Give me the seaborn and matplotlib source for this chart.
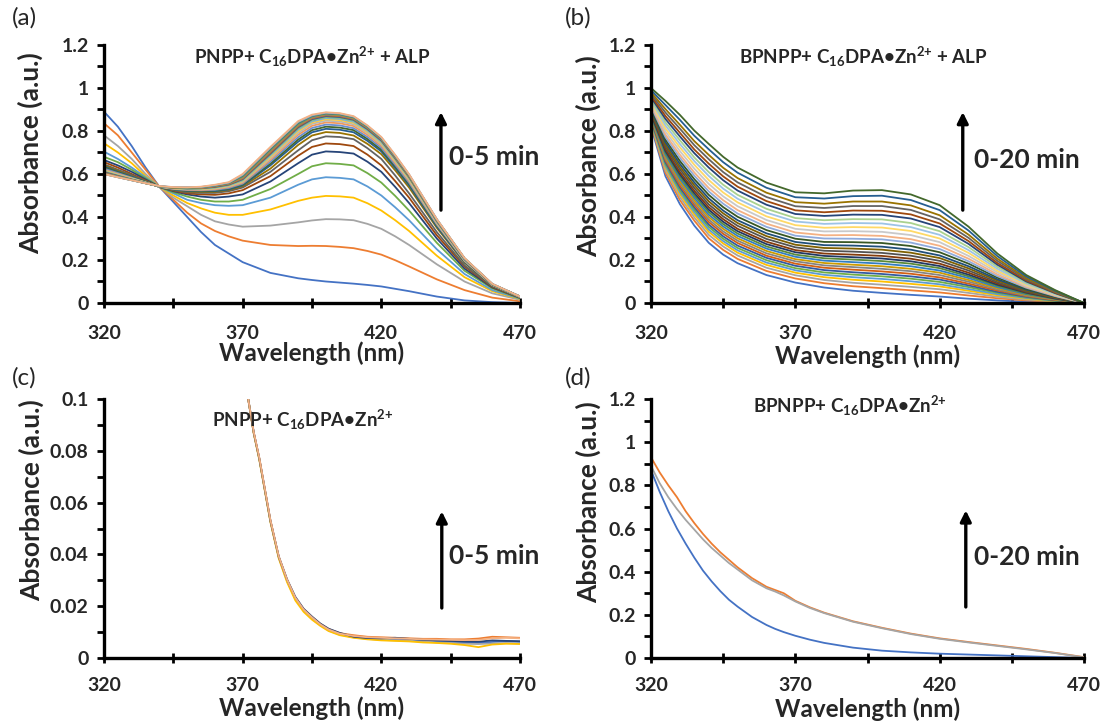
import matplotlib
matplotlib.use("Agg")
import matplotlib.pyplot as plt
import seaborn as sns
import pandas as pd
from matplotlib.ticker import FixedLocator, FuncFormatter

# ---------------- data ----------------
wl_a = [320, 325, 330, 335, 340, 345, 350, 355, 360, 365, 370, 380, 390, 395, 400, 405,
        410, 415, 420, 425, 430, 440, 450, 460, 470]
abs_a = [
    [.89, .82, .73, .63, .54, .47, .40, .33, .27, .23, .19, .14, .115, .107, .10, .095, .09, .084, .077, .066, .055, .03, .012, .004, 0],
    [.836, .78, .70, .62, .54, .48, .42, .37, .335, .31, .29, .27, .265, .266, .265, .261, .255, .242, .225, .199, .17, .11, .06, .025, .008],
    [.78, .73, .67, .60, .54, .49, .45, .41, .38, .365, .355, .36, .375, .384, .39, .389, .385, .368, .345, .31, .27, .18, .10, .045, .015],
    [.743, .70, .65, .59, .54, .50, .465, .44, .42, .41, .41, .435, .475, .49, .498, .496, .49, .464, .43, .385, .335, .22, .12, .055, .018],
    [.704, .67, .63, .585, .54, .51, .48, .465, .455, .452, .455, .49, .55, .575, .585, .582, .575, .542, .50, .445, .385, .25, .135, .06, .02],
    [.68, .655, .62, .58, .54, .515, .495, .48, .472, .472, .48, .53, .60, .636, .65, .647, .64, .604, .56, .498, .43, .28, .15, .068, .022],
    [.665, .64, .61, .575, .54, .52, .505, .495, .49, .495, .505, .565, .65, .69, .705, .702, .695, .657, .61, .54, .465, .30, .16, .072, .024],
    [.655, .63, .60, .57, .54, .523, .51, .505, .503, .51, .525, .59, .685, .726, .742, .739, .73, .69, .64, .567, .49, .315, .17, .075, .025],
    [.645, .62, .595, .567, .54, .525, .515, .512, .512, .52, .537, .61, .71, .757, .775, .772, .762, .72, .67, .593, .51, .33, .175, .078, .026],
    [.64, .615, .59, .565, .54, .527, .519, .516, .517, .525, .543, .625, .735, .779, .795, .791, .779, .74, .692, .617, .537, .35, .187, .08, .027],
    [.635, .611, .588, .564, .54, .528, .521, .519, .52, .528, .547, .64, .75, .794, .81, .806, .794, .754, .705, .628, .547, .356, .19, .081, .028],
    [.63, .608, .585, .563, .54, .529, .523, .521, .523, .532, .551, .648, .76, .804, .82, .816, .804, .763, .713, .636, .554, .361, .193, .082, .028],
    [.625, .604, .583, .561, .54, .53, .525, .524, .526, .535, .555, .657, .771, .814, .83, .826, .813, .772, .722, .643, .56, .365, .195, .083, .028],
    [.62, .60, .58, .56, .541, .532, .527, .526, .529, .539, .559, .666, .782, .824, .84, .836, .823, .782, .731, .651, .567, .37, .197, .084, .029],
    [.618, .598, .579, .56, .541, .533, .529, .528, .532, .542, .563, .673, .791, .833, .848, .844, .831, .79, .738, .657, .572, .373, .199, .085, .029],
    [.615, .596, .578, .56, .542, .534, .53, .53, .534, .545, .567, .68, .80, .84, .855, .851, .838, .796, .744, .662, .577, .376, .201, .086, .029],
    [.612, .594, .576, .559, .542, .535, .531, .532, .536, .547, .57, .686, .806, .845, .86, .856, .843, .801, .748, .667, .581, .378, .202, .086, .029],
    [.61, .592, .575, .558, .542, .535, .532, .533, .538, .549, .573, .691, .812, .851, .865, .861, .848, .806, .753, .671, .584, .381, .203, .087, .029],
    [.608, .591, .574, .558, .542, .536, .533, .534, .54, .551, .576, .695, .817, .855, .869, .865, .852, .809, .756, .674, .587, .382, .204, .087, .03],
    [.606, .589, .573, .557, .543, .536, .534, .535, .542, .553, .579, .70, .822, .859, .873, .869, .856, .813, .76, .677, .589, .384, .205, .087, .03],
    [.604, .588, .572, .557, .543, .537, .535, .536, .544, .555, .582, .705, .826, .862, .876, .872, .858, .815, .762, .679, .591, .385, .206, .088, .03],
    [.602, .587, .572, .557, .543, .537, .536, .537, .545, .557, .586, .71, .83, .866, .879, .875, .861, .818, .765, .682, .593, .387, .207, .088, .03],
    [.601, .586, .571, .557, .543, .538, .537, .538, .546, .558, .589, .714, .834, .868, .881, .877, .863, .82, .766, .683, .595, .388, .207, .088, .03],
    [.60, .585, .571, .557, .543, .538, .537, .539, .547, .559, .592, .718, .838, .871, .883, .879, .865, .822, .768, .685, .596, .389, .208, .088, .03],
    [.60, .585, .571, .557, .544, .539, .538, .54, .548, .56, .596, .722, .842, .873, .885, .881, .867, .824, .77, .687, .598, .39, .208, .089, .03],
    [.60, .585, .571, .557, .544, .539, .538, .541, .55, .562, .60, .726, .846, .876, .887, .883, .869, .826, .772, .689, .599, .39, .209, .089, .03],
]

wl_b = [320, 325, 330, 335, 340, 345, 350, 360, 370, 380, 390, 400, 410, 420, 430, 440, 450, 460, 470]
abs_b = [
    [.82, .59, .46, .36, .28, .225, .185, .13, .095, .072, .057, .047, .038, .03, .02, .012, .006, .002, 0],
    [.828, .606, .479, .383, .301, .247, .205, .149, .114, .092, .078, .069, .059, .049, .035, .022, .012, .005, 0],
    [.834, .618, .493, .398, .317, .263, .221, .164, .129, .107, .094, .085, .075, .064, .047, .029, .016, .007, 0],
    [.840, .629, .506, .412, .331, .277, .234, .177, .141, .120, .108, .100, .089, .077, .057, .036, .020, .008, 0],
    [.844, .637, .516, .423, .342, .288, .245, .188, .152, .131, .120, .112, .101, .087, .065, .041, .023, .010, 0],
    [.849, .646, .526, .434, .354, .299, .256, .199, .162, .142, .132, .124, .113, .098, .074, .047, .026, .011, 0],
    [.853, .655, .537, .445, .365, .310, .267, .210, .173, .153, .143, .135, .124, .109, .082, .052, .029, .013, 0],
    [.858, .664, .547, .456, .377, .322, .279, .220, .183, .164, .155, .147, .136, .119, .090, .058, .032, .014, 0],
    [.862, .672, .558, .467, .388, .333, .290, .231, .194, .175, .167, .159, .148, .130, .099, .063, .035, .016, 0],
    [.867, .681, .568, .478, .400, .345, .301, .242, .204, .186, .178, .171, .159, .141, .107, .069, .038, .017, 0],
    [.871, .690, .578, .489, .411, .356, .312, .253, .215, .197, .190, .183, .171, .151, .116, .074, .041, .019, 0],
    [.876, .699, .589, .500, .423, .367, .323, .263, .225, .208, .202, .195, .183, .162, .124, .080, .044, .020, 0],
    [.880, .707, .599, .511, .434, .378, .334, .274, .236, .219, .213, .207, .194, .172, .132, .085, .048, .021, 0],
    [.885, .716, .609, .522, .446, .390, .345, .285, .246, .230, .225, .219, .206, .183, .141, .091, .051, .023, 0],
    [.890, .727, .622, .535, .459, .403, .359, .298, .259, .243, .239, .233, .220, .196, .151, .097, .054, .025, 0],
    [.896, .737, .634, .548, .473, .417, .372, .311, .271, .256, .253, .248, .234, .209, .161, .104, .058, .026, 0],
    [.901, .748, .647, .561, .487, .430, .385, .324, .284, .269, .267, .262, .248, .221, .171, .110, .062, .028, 0],
    [.907, .760, .661, .576, .503, .446, .401, .339, .299, .284, .283, .279, .265, .236, .183, .118, .066, .030, 0],
    [.914, .772, .676, .592, .519, .462, .416, .354, .313, .300, .299, .296, .281, .251, .194, .125, .071, .032, 0],
    [.920, .784, .690, .607, .535, .478, .432, .369, .328, .315, .316, .312, .297, .266, .206, .133, .075, .034, 0],
    [.927, .798, .707, .625, .554, .496, .450, .386, .345, .333, .334, .331, .316, .283, .219, .142, .080, .037, 0],
    [.934, .812, .724, .643, .572, .514, .468, .403, .362, .350, .353, .351, .335, .300, .233, .150, .085, .039, 0],
    [.942, .826, .740, .660, .591, .532, .485, .420, .379, .368, .372, .370, .353, .317, .246, .159, .090, .041, 0],
    [.949, .840, .757, .677, .609, .550, .503, .438, .395, .385, .390, .389, .372, .334, .260, .168, .095, .044, 0],
    [.957, .856, .775, .697, .630, .571, .523, .457, .414, .405, .411, .410, .393, .353, .275, .178, .100, .046, 0],
    [.964, .870, .792, .714, .648, .589, .541, .474, .431, .422, .430, .429, .412, .370, .288, .186, .105, .048, 0],
    [.972, .886, .811, .734, .669, .609, .561, .493, .450, .442, .451, .451, .433, .389, .303, .196, .111, .051, 0],
    [.980, .902, .829, .753, .689, .629, .581, .513, .469, .462, .472, .472, .454, .408, .318, .206, .116, .054, 0],
    [.990, .921, .852, .778, .715, .655, .606, .536, .492, .486, .497, .499, .479, .432, .337, .218, .123, .057, 0],
    [1.0, .94, .875, .802, .74, .68, .63, .56, .515, .51, .523, .525, .505, .455, .355, .23, .13, .06, 0],
]

wl_c = [370, 372, 374, 376, 378, 380, 383, 386, 389, 392, 395, 398, 401, 405,
        410, 415, 420, 425, 430, 435, 440, 445, 450, 455, 460, 465, 470]
abs_c = [
    [.118, .100, .087, .077, .065, .053, .039, .030, .023, .0185, .0155, .0128, .0108, .0092,
     .0085, .0078, .0075, .0072, .0072, .0068, .0065, .0062, .006, .0058, .0062, .0065, .0062],
    [.118, .100, .087, .0772, .0652, .0532, .0392, .0302, .0232, .0188, .0158, .0132, .0112, .0096,
     .0088, .0082, .0080, .0078, .0076, .0074, .0074, .0072, .0072, .0075, .0082, .0080, .0078],
    [.118, .100, .0868, .0768, .0648, .0528, .0388, .0298, .0228, .0183, .0152, .0127, .0106, .009,
     .008, .0074, .007, .0068, .0066, .0064, .006, .0058, .0055, .0054, .0056, .0058, .0056],
    [.118, .100, .0866, .0765, .0645, .0525, .0385, .0293, .0222, .0178, .0148, .0124, .0104, .0088,
     .0078, .0072, .0068, .0066, .0064, .006, .0058, .0055, .005, .0042, .0052, .0055, .0054],
    [.118, .100, .087, .077, .065, .053, .0392, .0304, .0236, .019, .016, .0133, .0113, .0097,
     .0082, .0077, .0076, .0078, .0074, .007, .0068, .0066, .0064, .0063, .0068, .0066, .0065],
    [.118, .100, .0872, .0773, .0653, .0533, .0393, .0303, .0233, .0187, .0157, .013, .011, .0094,
     .0085, .008, .0078, .0076, .0074, .0072, .0071, .007, .0069, .007, .0076, .0078, .0076],
]

wl_d = [320, 323, 326, 329, 332, 335, 338, 341, 344, 347, 350, 355, 360, 363, 366, 370,
        375, 380, 390, 400, 410, 420, 430, 440, 450, 460, 470]
abs_d = [
    [.87, .77, .68, .60, .53, .465, .405, .355, .31, .27, .238, .19, .153, .135, .12, .103,
     .085, .07, .048, .034, .026, .02, .016, .012, .008, .004, 0],
    [.93, .86, .80, .745, .68, .625, .575, .53, .49, .455, .42, .37, .33, .315, .30, .265,
     .235, .21, .17, .14, .113, .091, .074, .058, .042, .024, .004],
    [.89, .81, .745, .69, .64, .595, .55, .51, .475, .44, .41, .36, .323, .308, .29, .262,
     .232, .208, .168, .138, .111, .089, .072, .056, .04, .023, .003],
]

x_ticks = [320, 370, 420, 470]
titles = [r"PNPP+ C$_{16}$DPA•Zn$^{\text{2+}}$ + ALP", r"BPNPP+ C$_{16}$DPA•Zn$^{\text{2+}}$ + ALP",
          r"PNPP+ C$_{16}$DPA•Zn$^{\text{2+}}$", r"BPNPP+ C$_{16}$DPA•Zn$^{\text{2+}}$"]
time_labels = ["0-5 min", "0-20 min", "0-5 min", "0-20 min"]
panel_labels = ["(a)", "(b)", "(c)", "(d)"]

EXCEL = ['#4472C4', '#ED7D31', '#A5A5A5', '#FFC000', '#5B9BD5', '#70AD47',
         '#264478', '#9E480E', '#636363', '#997300', '#255E91', '#43682B',
         '#698ED0', '#F1975A', '#B7B7B7', '#FFCD33', '#7CAFDD', '#8CC168',
         '#335AA1', '#D26012', '#848484', '#CC9A00', '#327DC2', '#5A8A39',
         '#8FAADC', '#F4B183', '#C9C9C9', '#FFD966', '#9DC3E6', '#A9D18E',
         '#203864', '#843C0C', '#525252', '#7F6000', '#1F4E79', '#385723']

pal_a = EXCEL[:26]
pal_b = EXCEL[0:6] + EXCEL[18:24] + EXCEL[30:36] + EXCEL[24:30] + EXCEL[6:12]
pal_c = ['#4472C4', '#ED7D31', '#A5A5A5', '#FFC000', '#264478', '#F4B183']
pal_d = ['#4472C4', '#ED7D31', '#A5A5A5']

# ---------------- style ----------------
sns.set_theme(style="white")
plt.rcParams['font.family'] = ['Lato', 'DejaVu Sans']
plt.rcParams['font.weight'] = 'bold'
plt.rcParams['mathtext.fontset'] = 'custom'
plt.rcParams['mathtext.rm'] = 'Lato:bold'
plt.rcParams['mathtext.it'] = 'Lato:bold'
plt.rcParams['mathtext.bf'] = 'Lato:bold'

W, H = 1115, 724
fig = plt.figure(figsize=(W / 100, H / 100), dpi=100)


def rect(l, r, t, b):
    return [l / W, 1 - b / H, (r - l) / W, (b - t) / H]


boxes = [rect(104, 520, 45, 303), rect(651, 1084, 45, 303),
         rect(104, 520, 399, 658), rect(651, 1084, 399, 658)]


def to_long(wl, curves, tag):
    rows = []
    for i, c in enumerate(curves):
        for x, y in zip(wl, c):
            rows.append((f"{tag}{i:02d}", x, y))
    return pd.DataFrame(rows, columns=["curve", "wl", "A"])


panels = [(wl_a, abs_a, pal_a, 1.2), (wl_b, abs_b, pal_b, 1.2),
          (wl_c, abs_c, pal_c, 0.1), (wl_d, abs_d, pal_d, 1.2)]

arrow_pos = [  # x, y0, y1, text x, text y (axes fraction)
    (0.81, 0.36, 0.74, 0.83, 0.566),
    (0.72, 0.36, 0.74, 0.745, 0.554),
    (0.812, 0.193, 0.566, 0.83, 0.394),
    (0.727, 0.197, 0.57, 0.745, 0.39),
]
title_pos = [(0.5, 0.955), (0.49, 0.955), (0.478, 0.92), (0.46, 0.975)]
ylab_pos = [(-0.147, 0.58), (-0.115, 0.57), (-0.145, 0.61), (-0.115, 0.60)]
xlab_y = [-0.15, -0.16, -0.15, -0.152]
xpad = [12, 12, 10, 10]
plabel_xy = [(12, 18), (565, 18), (12, 378), (565, 378)]

for k, (wl, curves, pal, ymax) in enumerate(panels):
    ax = fig.add_axes(boxes[k])
    df = to_long(wl, curves, "s")
    names = [f"s{i:02d}" for i in range(len(curves))]
    sns.lineplot(data=df, x="wl", y="A", hue="curve", hue_order=names,
                 palette=pal, legend=False, ax=ax, linewidth=1.3,
                 estimator=None, sort=False, errorbar=None)
    ax.set_xlim(320, 470)
    ax.set_ylim(0, ymax)
    ax.set_xticks(x_ticks)
    ax.xaxis.set_minor_locator(FixedLocator([345, 395, 445]))
    if ymax > 0.5:
        ax.set_yticks([0, 0.2, 0.4, 0.6, 0.8, 1.0, 1.2])
        ax.yaxis.set_minor_locator(FixedLocator([0.1, 0.3, 0.5, 0.7, 0.9, 1.1]))
    else:
        ax.set_yticks([0, 0.02, 0.04, 0.06, 0.08, 0.1])
        ax.yaxis.set_minor_locator(FixedLocator([0.01, 0.03, 0.05, 0.07, 0.09]))
    ax.yaxis.set_major_formatter(FuncFormatter(lambda v, p: f"{round(v, 3):g}"))
    for s in ["top", "right"]:
        ax.spines[s].set_visible(False)
    for s in ["left", "bottom"]:
        ax.spines[s].set_linewidth(2.4)
        ax.spines[s].set_color("black")
    ax.tick_params(axis="x", which="both", bottom=True, direction="inout",
                   length=7, width=2, color="black", labelsize=14, pad=xpad[k])
    ax.tick_params(axis="y", which="both", left=True, direction="out",
                   length=5, width=2, color="black", labelsize=14, pad=6)
    ax.set_xlabel("Wavelength (nm)", fontsize=17.5, fontweight="bold")
    ax.set_ylabel("Absorbance (a.u.)", fontsize=19, fontweight="bold")
    ax.yaxis.set_label_coords(*ylab_pos[k])
    ax.xaxis.set_label_coords(0.5, xlab_y[k])
    ax.patch.set_alpha(0)

    tx, ty = title_pos[k]
    ax.text(tx, ty, titles[k], transform=ax.transAxes, ha="center", va="center",
            fontsize=13.5, fontweight="bold")
    axx, y0, y1, txx, tyy = arrow_pos[k]
    ax.annotate("", xy=(axx, y1), xytext=(axx, y0), xycoords="axes fraction",
                textcoords="axes fraction",
                arrowprops=dict(arrowstyle="-|>", color="black", lw=2.4,
                                mutation_scale=16, shrinkA=0, shrinkB=0))
    ax.text(txx, tyy, time_labels[k], transform=ax.transAxes, ha="left",
            va="center", fontsize=19, fontweight="bold")
    px, py = plabel_xy[k]
    fig.text(px / W, 1 - py / H, panel_labels[k], ha="left", va="center",
             fontsize=17.5, fontweight="normal")

fig.savefig("out.png", dpi=100, facecolor="white")
